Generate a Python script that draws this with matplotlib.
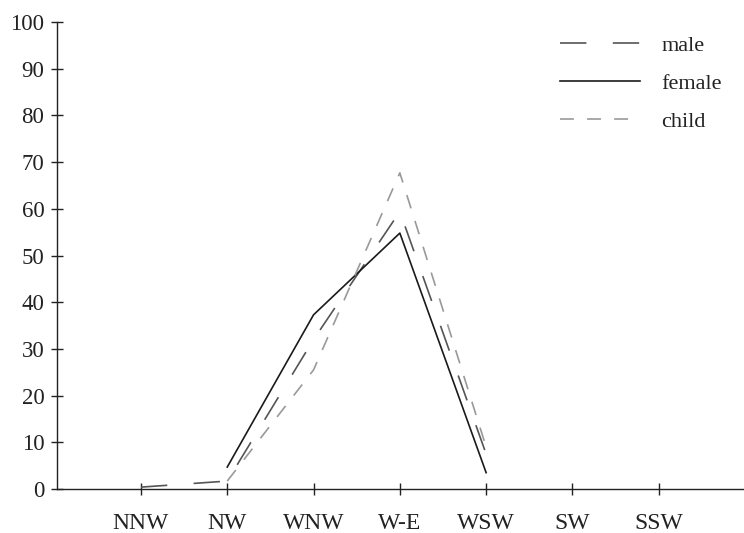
import numpy as np
import matplotlib
matplotlib.use('Agg')
import matplotlib.pyplot as plt

plt.rcParams['font.family'] = ['Liberation Serif', 'DejaVu Serif']

categories = ['NNW', 'NW', 'WNW', 'W-E', 'WSW', 'SW', 'SSW']
male_x   = ['NNW', 'NW', 'WNW', 'W-E', 'WSW']
male     = [0.4, 1.7, 32.0, 59.4, 7.5]
female_x = ['NW', 'WNW', 'W-E', 'WSW']
female   = [4.7, 37.3, 54.8, 3.5]
child_x  = ['NW', 'WNW', 'W-E', 'WSW']
child    = [1.7, 25.5, 67.7, 9.0]

pos = {c: i for i, c in enumerate(categories)}

fig = plt.figure(figsize=(7.44, 5.33), dpi=100)
ax = fig.add_axes([57/744, 1-489/533, 688/744, 467/533])

lw = 1.2
ax.plot([pos[c] for c in male_x], male, color='#555555', lw=lw,
        dashes=(19/lw, 19/lw), label='male')
ax.plot([pos[c] for c in female_x], female, color='#1a1a1a', lw=lw,
        label='female')
ax.plot([pos[c] for c in child_x], child, color='#999999', lw=lw,
        dashes=(10/lw, 9.5/lw), label='child')

ax.set_xlim(-0.973, 7.0)
ax.set_ylim(0, 100)
ax.set_xticks(range(len(categories)))
ax.set_xticklabels(categories)
ax.set_yticks(np.arange(0, 101, 10))
for s in ['top', 'right']:
    ax.spines[s].set_visible(False)
for s in ['left', 'bottom']:
    ax.spines[s].set_color('#222222')
    ax.spines[s].set_linewidth(1.0)
ax.tick_params(axis='both', direction='inout', length=8, width=1.0,
               colors='#222222', labelcolor='#222222')
ax.tick_params(axis='x', pad=13, labelsize=17)
ax.tick_params(axis='y', pad=5, labelsize=16.5)

ax.legend(loc='upper left', bbox_to_anchor=(560/744, 1-35/533),
          bbox_transform=fig.transFigure, frameon=False, borderpad=0,
          borderaxespad=0, fontsize=16, handlelength=3.6,
          handletextpad=0.95, labelspacing=0.8, labelcolor='#222222')

fig.savefig('out.png', dpi=100)
